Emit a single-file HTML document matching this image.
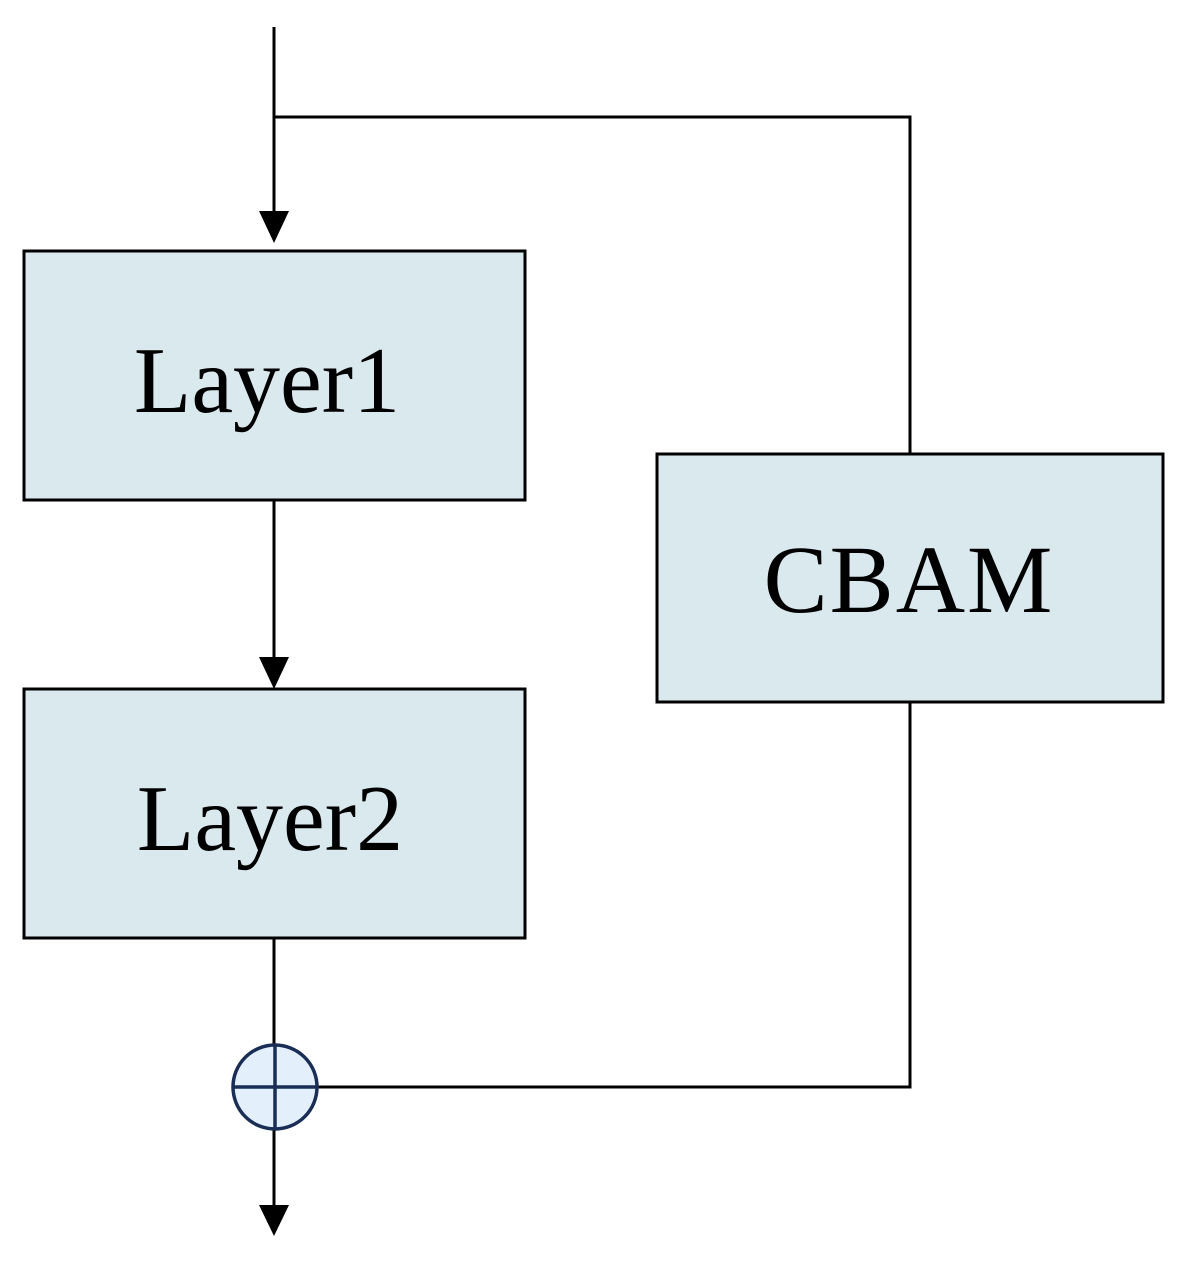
<!DOCTYPE html>
<html><head><style>html,body{margin:0;padding:0;background:#fff}</style></head>
<body>
<svg width="1192" height="1270" viewBox="0 0 1192 1270" xmlns="http://www.w3.org/2000/svg">
<g stroke="#000" stroke-width="3" fill="none">
<line x1="274" y1="27" x2="274" y2="215"/>
<polyline points="274,117 910,117 910,453"/>
<polyline points="910,702 910,1087 318,1087"/>
<line x1="274" y1="500" x2="274" y2="660"/>
<line x1="274" y1="938" x2="274" y2="1044"/>
<line x1="274" y1="1130" x2="274" y2="1208"/>
</g>
<polygon points="259,211 289,211 274,243" fill="#000"/>
<polygon points="259,657 289,657 274,689" fill="#000"/>
<polygon points="259,1205 289,1205 274,1236" fill="#000"/>
<rect x="24" y="251" width="501" height="249" fill="#dae9ee" stroke="#000" stroke-width="3"/>
<rect x="24" y="689" width="501" height="249" fill="#dae9ee" stroke="#000" stroke-width="3"/>
<rect x="657" y="454" width="506" height="248" fill="#dae9ee" stroke="#000" stroke-width="3"/>
<circle cx="275" cy="1087" r="42" fill="#e3f0fb" stroke="#1a2d55" stroke-width="3.5"/>
<line x1="275" y1="1045" x2="275" y2="1129" stroke="#1a2d55" stroke-width="3.5"/>
<line x1="233" y1="1087" x2="317" y2="1087" stroke="#1a2d55" stroke-width="3.5"/>
<g font-family="Liberation Serif, serif" fill="#000" text-anchor="middle">
<text x="267" y="412" font-size="94">Layer1</text>
<text x="270" y="850" font-size="94">Layer2</text>
<text x="909" y="612" font-size="96" letter-spacing="2">CBAM</text>
</g>
</svg>
</body></html>
